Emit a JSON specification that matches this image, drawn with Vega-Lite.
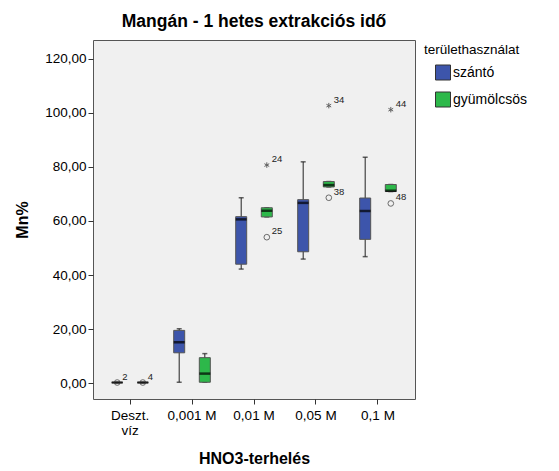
{
  "$schema": "https://vega.github.io/schema/vega-lite/v6.json",
  "autosize": "none",
  "width": 322,
  "height": 359,
  "padding": {"left": 93, "top": 40, "right": 144, "bottom": 72},
  "background": "white",
  "title": {"text": "Mangán - 1 hetes extrakciós idő", "fontSize": 17.5, "fontWeight": "bold", "font": "Liberation Sans", "color": "black", "anchor": "middle", "offset": 10},
  "config": {
    "view": {"fill": "#f0f0f0", "stroke": "#555555", "strokeWidth": 1},
    "axis": {"domain": false, "grid": false, "tickColor": "#333333", "tickSize": 5, "labelFont": "Liberation Sans", "labelColor": "black", "titleFont": "Liberation Sans", "titleColor": "black", "titleFontWeight": "bold"},
    "legend": {"labelFont": "Liberation Sans", "titleFont": "Liberation Sans"}
  },
  "datasets": {
    "boxes": [
      {"cat": "Deszt. víz", "grp": "szántó", "min": 0.2, "q1": 0.2, "med": 0.2, "q3": 0.2, "max": 0.2},
      {"cat": "Deszt. víz", "grp": "gyümölcsös", "min": 0.2, "q1": 0.2, "med": 0.2, "q3": 0.2, "max": 0.2},
      {"cat": "0,001 M", "grp": "szántó", "min": 0.3, "q1": 11.2, "med": 15.1, "q3": 19.5, "max": 20.1},
      {"cat": "0,001 M", "grp": "gyümölcsös", "min": 0.3, "q1": 0.3, "med": 3.5, "q3": 9.4, "max": 10.9},
      {"cat": "0,01 M", "grp": "szántó", "min": 42.2, "q1": 44.0, "med": 60.6, "q3": 61.6, "max": 68.6},
      {"cat": "0,01 M", "grp": "gyümölcsös", "min": 61.5, "q1": 61.5, "med": 63.8, "q3": 64.9, "max": 64.9},
      {"cat": "0,05 M", "grp": "szántó", "min": 45.9, "q1": 48.6, "med": 66.7, "q3": 67.9, "max": 81.9},
      {"cat": "0,05 M", "grp": "gyümölcsös", "min": 72.6, "q1": 72.6, "med": 73.3, "q3": 74.6, "max": 74.6},
      {"cat": "0,1 M", "grp": "szántó", "min": 46.8, "q1": 53.2, "med": 63.7, "q3": 68.5, "max": 83.6},
      {"cat": "0,1 M", "grp": "gyümölcsös", "min": 70.9, "q1": 70.9, "med": 71.2, "q3": 73.5, "max": 73.5}
    ],
    "outliers": [
      {"cat": "Deszt. víz", "grp": "szántó", "v": 0.2, "lab": "2", "kind": "o"},
      {"cat": "Deszt. víz", "grp": "gyümölcsös", "v": 0.2, "lab": "4", "kind": "o"},
      {"cat": "0,01 M", "grp": "gyümölcsös", "v": 80.7, "lab": "24", "kind": "star"},
      {"cat": "0,01 M", "grp": "gyümölcsös", "v": 54.0, "lab": "25", "kind": "o"},
      {"cat": "0,05 M", "grp": "gyümölcsös", "v": 102.7, "lab": "34", "kind": "star"},
      {"cat": "0,05 M", "grp": "gyümölcsös", "v": 68.6, "lab": "38", "kind": "o"},
      {"cat": "0,1 M", "grp": "gyümölcsös", "v": 101.2, "lab": "44", "kind": "star"},
      {"cat": "0,1 M", "grp": "gyümölcsös", "v": 66.5, "lab": "48", "kind": "o"}
    ]
  },
  "encoding": {
    "x": {"field": "cat", "type": "nominal", "sort": ["Deszt. víz", "0,001 M", "0,01 M", "0,05 M", "0,1 M"],
      "scale": {"domain": ["Deszt. víz", "0,001 M", "0,01 M", "0,05 M", "0,1 M"], "paddingInner": 0, "paddingOuter": 0.097},
      "axis": {"title": "HNO3-terhelés", "titleFontSize": 16, "titlePadding": 13, "labelFontSize": 13.5, "labelAngle": 0, "labelPadding": 4,
        "labelExpr": "datum.label == 'Deszt. víz' ? ['Deszt.', 'víz'] : datum.label"}},
    "xOffset": {"field": "grp", "type": "nominal", "scale": {"domain": ["szántó", "gyümölcsös"], "paddingInner": 0, "paddingOuter": 0.21}}
  },
  "layer": [
    {
      "data": {"name": "boxes"},
      "mark": {"type": "rule", "color": "#222222", "strokeWidth": 1},
      "encoding": {
        "y": {"field": "min", "type": "quantitative", "scale": {"domain": [-5.9, 127], "nice": false, "zero": false},
          "axis": {"title": "Mn%", "titleFontSize": 16, "titlePadding": 14, "labelFontSize": 13.5, "labelPadding": 2,
            "values": [0, 20, 40, 60, 80, 100, 120], "labelExpr": "replace(format(datum.value, '.2f'), '.', ',')"}},
        "y2": {"field": "max"}
      }
    },
    {
      "data": {"name": "boxes"},
      "mark": {"type": "tick", "color": "#222222", "size": 5, "thickness": 1.5},
      "encoding": {"y": {"field": "max", "type": "quantitative"}}
    },
    {
      "data": {"name": "boxes"},
      "mark": {"type": "tick", "color": "#222222", "size": 5, "thickness": 1.5},
      "encoding": {"y": {"field": "min", "type": "quantitative"}}
    },
    {
      "data": {"name": "boxes"},
      "mark": {"type": "bar", "size": 11, "stroke": "#555555", "strokeWidth": 1},
      "encoding": {
        "y": {"field": "q1", "type": "quantitative"},
        "y2": {"field": "q3"},
        "color": {"field": "grp", "type": "nominal", "scale": {"domain": ["szántó", "gyümölcsös"], "range": ["#3d55ab", "#2db84a"]},
          "legend": {"title": "területhasználat", "titleFontSize": 13.5, "titleFontWeight": "normal", "titleColor": "black", "labelFontSize": 14, "labelColor": "black",
            "symbolType": "square", "symbolSize": 225, "symbolStrokeColor": "#333333", "symbolStrokeWidth": 1, "symbolOpacity": 1, "symbolOffset": 11, "labelOffset": 2, "rowPadding": 7, "titlePadding": 8, "offset": 6, "padding": 3}}
      }
    },
    {
      "data": {"name": "boxes"},
      "mark": {"type": "tick", "color": "black", "size": 11, "thickness": 2.5},
      "encoding": {"y": {"field": "med", "type": "quantitative"}}
    },
    {
      "data": {"name": "outliers"},
      "transform": [{"filter": "datum.kind == 'o'"}],
      "mark": {"type": "point", "shape": "circle", "filled": false, "stroke": "#333333", "strokeWidth": 1, "size": 32},
      "encoding": {"y": {"field": "v", "type": "quantitative"}}
    },
    {
      "data": {"name": "outliers"},
      "transform": [{"filter": "datum.kind == 'star'"}],
      "mark": {"type": "point", "shape": "M0,-1L0,1M-0.87,-0.5L0.87,0.5M-0.87,0.5L0.87,-0.5", "filled": false, "stroke": "#222222", "strokeWidth": 1, "size": 30},
      "encoding": {"y": {"field": "v", "type": "quantitative"}}
    },
    {
      "data": {"name": "outliers"},
      "mark": {"type": "text", "align": "left", "baseline": "middle", "dx": 5, "dy": -6, "fontSize": 9.5, "font": "Liberation Sans", "color": "#222222"},
      "encoding": {"y": {"field": "v", "type": "quantitative"}, "text": {"field": "lab"}}
    }
  ]
}
